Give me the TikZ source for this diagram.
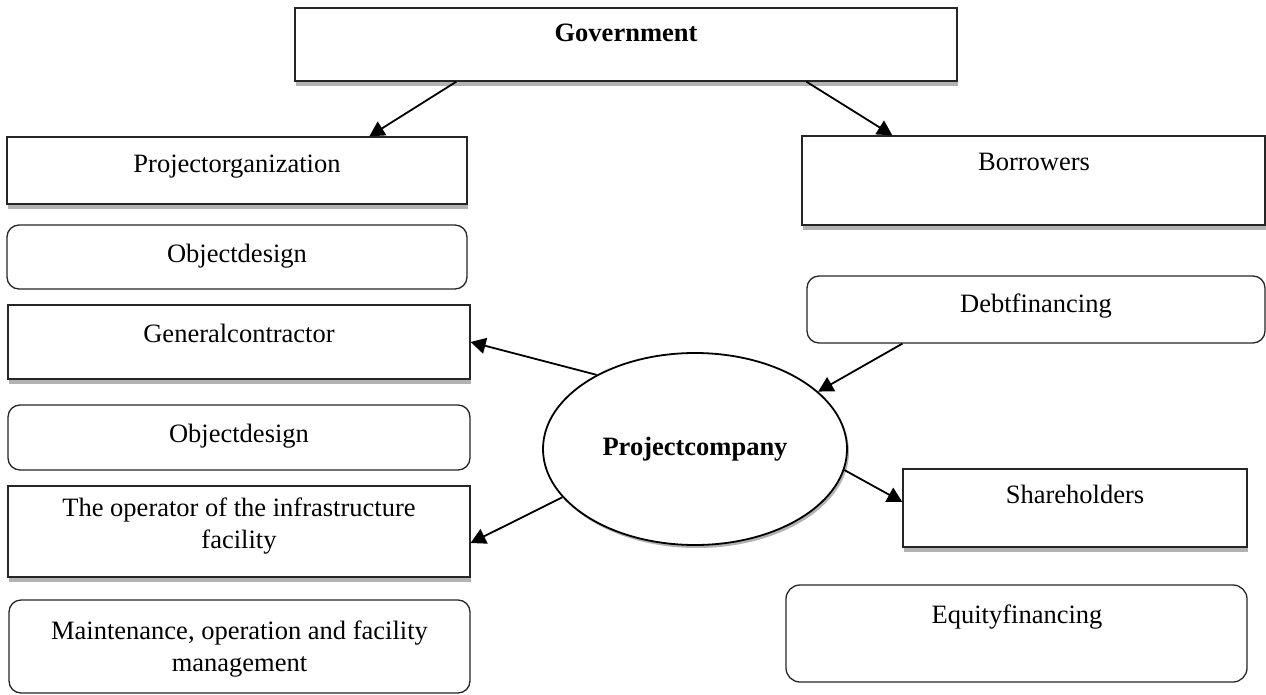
\documentclass[tikz,border=0pt]{standalone}
\usepackage{fontspec}
\setmainfont{Liberation Serif}
\usetikzlibrary{arrows.meta,calc,shapes.geometric,shadows}
\begin{document}
\begin{tikzpicture}[x=1pt,y=-1pt,
  font=\fontsize{26.5}{32}\selectfont,
  sqbox/.style={rectangle, draw=black!85, line width=1.3pt, fill=white, inner sep=0pt,
    drop shadow={shadow xshift=1pt, shadow yshift=-5pt, fill=gray!60, opacity=1}},
  rbox/.style={rectangle, draw=black!85, line width=1.3pt, fill=white, inner sep=0pt,
    rounded corners=12pt},
  oval/.style={ellipse, draw=black, line width=1.8pt, fill=white, inner sep=0pt,
    drop shadow={shadow xshift=2pt, shadow yshift=-3pt, fill=gray!60, opacity=1}},
  link/.style={draw=black, line width=1.8pt, -{Triangle[length=15pt,width=16pt]}},
  txt/.style={inner sep=0pt, align=center}
]
\useasboundingbox (0,0) rectangle (1266,695);

% boxes
\node[sqbox, minimum width=662, minimum height=73] (gov)  at (626,44.5) {};
\node[sqbox, minimum width=460, minimum height=67] (porg) at (237,170.5) {};
\node[rbox,  minimum width=460, minimum height=64] (od1)  at (237,257) {};
\node[sqbox, minimum width=462, minimum height=74] (gc)   at (239,342) {};
\node[rbox,  minimum width=462, minimum height=65] (od2)  at (239,437.5) {};
\node[sqbox, minimum width=462, minimum height=91] (op)   at (239,531.5) {};
\node[rbox,  minimum width=461, minimum height=93] (mnt)  at (239.5,646.5) {};
\node[sqbox, minimum width=463, minimum height=89] (bor)  at (1033.5,180.5) {};
\node[rbox,  minimum width=458, minimum height=67] (debt) at (1036,309.5) {};
\node[sqbox, minimum width=344, minimum height=78] (sh)   at (1075,508) {};
\node[rbox,  minimum width=461, minimum height=97, rounded corners=14pt] (eq) at (1016.5,633.5) {};
\node[oval,  minimum width=304, minimum height=192] (ell) at (695,449) {};

% texts
\node[txt, font=\fontsize{26.5}{32}\selectfont\bfseries] (govt) at (626,33) {Government};
\node[txt] (porgt) at (237,167) {Projectorganization};
\node[txt] (od1t)  at (237,256) {Objectdesign};
\node[txt] (gct)   at (239,333) {Generalcontractor};
\node[txt] (od2t)  at (239,436) {Objectdesign};
\node[txt] (opt)   at (239,526) {The operator of the infrastructure\\facility};
\node[txt] (mntt)  at (239.5,649) {Maintenance, operation and facility\\management};
\node[txt] (bort)  at (1034,162) {Borrowers};
\node[txt] (debtt) at (1036,306) {Debtfinancing};
\node[txt, font=\fontsize{26.5}{32}\selectfont\bfseries] (ellt) at (695,449) {Projectcompany};
\node[txt] (sht)   at (1075,494) {Shareholders};
\node[txt] (eqt)   at (1017,617) {Equityfinancing};

% connectors
\draw[link] ($(gov.south west)+(162,0)$) -- ($(porg.north west)+(363,0)$);
\draw[link] ($(gov.south west)+(512,0)$) -- ($(bor.north west)+(91,0)$);
\draw[link] ($(debt.south west)+(96,0)$) -- (ell.25);
\draw[link] (ell.143) -- (gc.east);
\draw[link] (ell.200) -- ($(op.east)+(0,11.5)$);
\draw[link] (ell.-8) -- ($(sh.west)+(0,-6)$);
\end{tikzpicture}
\end{document}
